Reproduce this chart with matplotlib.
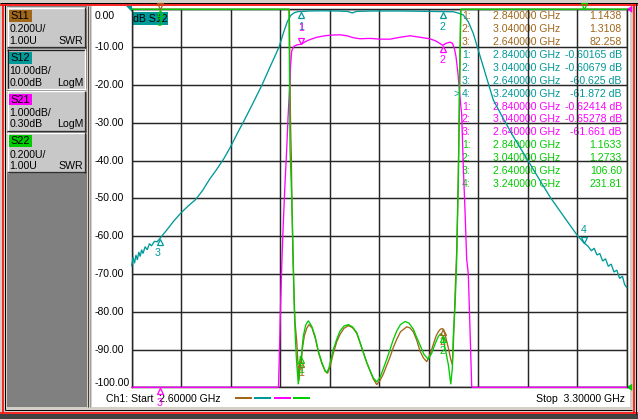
import numpy as np
import matplotlib
matplotlib.use("Agg")
import matplotlib.pyplot as plt
from matplotlib.patches import Rectangle, Polygon
from matplotlib.transforms import blended_transform_factory, offset_copy

plt.rcParams['font.family'] = ['Liberation Sans', 'DejaVu Sans']

# ---------------- data ----------------
START_GHZ, STOP_GHZ = 2.60, 3.30
channels = ['S11', 'S12', 'S21', 'S22']
channel_colors = ['#a0661a', '#009999', '#ff00ff', '#00cc00']
scale_per_div = ['0.200U/', '10.00dB/', '1.000dB/', '0.200U/']
ref_values = ['1.00U', '0.00dB', '0.30dB', '1.00U']
formats = ['SWR', 'LogM', 'LogM', 'SWR']

S12_REF, S12_DIV = 0.00, 10.0   # dB, reference at top line
S21_REF, S21_DIV = 0.30, 1.0    # dB, reference at top line
SWR_REF, SWR_DIV = 1.00, 0.2    # U, reference at bottom line

y_ticks = [0, -10, -20, -30, -40, -50, -60, -70, -80, -90, -100]
y_tick_labels = ['0.00', '-10.00', '-20.00', '-30.00', '-40.00', '-50.00',
                 '-60.00', '-70.00', '-80.00', '-90.00', '-100.00']

# S12 (dB)
s12_f = [2.600, 2.602, 2.604, 2.606, 2.608, 2.610, 2.612, 2.614, 2.616, 2.619,
         2.622, 2.625, 2.628, 2.632, 2.636, 2.640, 2.650, 2.660, 2.670, 2.680,
         2.690, 2.700, 2.710, 2.720, 2.730, 2.740, 2.750, 2.7574, 2.770, 2.7843,
         2.795, 2.8083, 2.815, 2.820, 2.825, 2.830, 2.835, 2.840, 2.850, 2.870,
         2.890, 2.905, 2.912, 2.918, 2.940, 2.960, 2.980, 3.000, 3.020, 3.040,
         3.0548, 3.0620, 3.0689, 3.0760, 3.0831, 3.0901, 3.0972, 3.1043, 3.1114,
         3.1251, 3.1392, 3.1604, 3.1774, 3.1925, 3.2099, 3.2293, 3.2400, 3.245,
         3.250, 3.254, 3.258, 3.262, 3.266, 3.270, 3.274, 3.278, 3.282, 3.286,
         3.290, 3.294, 3.297, 3.300]
s12_db = [-67.8, -65.6, -67.2, -65.0, -66.3, -64.2, -65.4, -63.6, -64.6, -62.8,
          -63.6, -62.0, -62.6, -61.4, -61.5, -60.6, -58.3, -55.9, -53.8, -52.0,
          -50.4, -48.0, -45.0, -42.4, -39.6, -36.3, -32.6, -30.0, -25.4, -20.0,
          -15.5, -10.0, -6.0, -3.3, -1.6, -0.9, -0.6, -0.60, -0.45, -0.40,
          -0.45, -0.55, -0.95, -0.55, -0.45, -0.45, -0.45, -0.50, -0.55, -0.61,
          -0.65, -1.0, -1.5, -3.3, -6.4, -10.8, -15.2, -19.6, -24.0,
          -28.8, -33.5, -40.0, -45.3, -49.9, -54.5, -59.6, -61.9, -62.6,
          -63.9, -63.2, -65.0, -64.6, -66.6, -66.0, -68.0, -67.4, -69.5, -69.0,
          -71.2, -70.6, -72.8, -73.6]

# S21 (dB) - stop band shown at the clipped bottom level
s21_f = [2.600, 2.8076, 2.8090, 2.8107, 2.8125, 2.8144, 2.8168, 2.8192, 2.8210,
         2.8229, 2.8246, 2.8263, 2.8295, 2.8338, 2.8400, 2.8451, 2.8521, 2.8616,
         2.8734, 2.8847, 2.8946, 2.9045, 2.9130, 2.9229, 2.9370, 2.9512, 2.9653,
         2.9794, 2.9936, 3.0077, 3.0218, 3.0303, 3.0400, 3.0445, 3.0501, 3.0537,
         3.0565, 3.0586, 3.0614, 3.0636, 3.0667, 3.0689, 3.0713, 3.0737, 3.0760,
         3.0784, 3.0808, 3.0819, 3.300]
s21_db = [-9.70, -9.70, -8.70, -7.40, -6.30, -5.35, -4.30, -3.40, -2.60,
          -1.90, -1.20, -0.80, -0.68, -0.64, -0.624, -0.56, -0.50, -0.44,
          -0.40, -0.38, -0.375, -0.40, -0.45, -0.48, -0.47, -0.49, -0.49,
          -0.44, -0.40, -0.44, -0.48, -0.54, -0.653, -0.60, -0.57, -0.60,
          -0.75, -0.95, -1.40, -1.90, -2.50, -3.85, -5.00, -6.30, -6.70,
          -8.16, -9.67, -9.70, -9.70]

# S22 (SWR) - out of band shown at the clipped top level
s22_f = [2.600, 2.8224, 2.8239, 2.8263, 2.8285, 2.8299, 2.8314, 2.8331, 2.8356,
         2.8370, 2.8384, 2.8400, 2.8413, 2.8427, 2.8461, 2.8498, 2.8545, 2.8592,
         2.8639, 2.8687, 2.8734, 2.8762, 2.8790, 2.8851, 2.8899, 2.8946, 2.9002,
         2.9063, 2.9122, 2.9182, 2.9228, 2.9275, 2.9323, 2.9370, 2.9417, 2.9465,
         2.9511, 2.9558, 2.9606, 2.9653, 2.9699, 2.9748, 2.9801, 2.9865, 2.9921,
         2.9982, 3.0030, 3.0077, 3.0133, 3.0194, 3.0242, 3.0289, 3.0335, 3.0369,
         3.0400, 3.0431, 3.0478, 3.0512, 3.0534, 3.0548, 3.0563, 3.0573, 3.0586,
         3.0596, 3.0608, 3.0619, 3.0633, 3.0643, 3.0653, 3.300]
s22_swr = [3.00, 3.00, 2.26, 2.00, 1.68, 1.42, 1.26, 1.14, 1.016,
           1.08, 1.164, 1.1633, 1.22, 1.272, 1.33, 1.352, 1.324, 1.272,
           1.192, 1.134, 1.088, 1.078, 1.104, 1.20, 1.254, 1.298, 1.324,
           1.332, 1.32, 1.29, 1.24, 1.184, 1.132, 1.088, 1.05, 1.028,
           1.052, 1.098, 1.148, 1.20, 1.252, 1.298, 1.332, 1.348, 1.34,
           1.308, 1.264, 1.224, 1.174, 1.148, 1.18, 1.228, 1.268, 1.284,
           1.2733, 1.208, 1.12, 1.016, 1.10, 1.272, 1.368, 1.44, 1.56,
           1.68, 1.90, 2.08, 2.52, 2.80, 3.00, 3.00]

# S11 (SWR)
s11_f = [2.600, 2.8229, 2.8246, 2.8257, 2.8267, 2.8281, 2.8295, 2.8309, 2.8333,
         2.8352, 2.8366, 2.8380, 2.8400, 2.8416, 2.8441, 2.8475, 2.8507, 2.8550,
         2.8596, 2.8644, 2.8691, 2.8738, 2.8769, 2.8804, 2.8851, 2.8899, 2.8946,
         2.9002, 2.9063, 2.9122, 2.9182, 2.9228, 2.9275, 2.9323, 2.9370, 2.9417,
         2.9465, 2.9511, 2.9558, 2.9606, 2.9653, 2.9699, 2.9748, 2.9801, 2.9889,
         2.9936, 2.9982, 3.0030, 3.0077, 3.0124, 3.0172, 3.0218, 3.0266, 3.0303,
         3.0336, 3.0367, 3.0400, 3.0431, 3.0478, 3.0512, 3.0534, 3.0548, 3.0565,
         3.0579, 3.0596, 3.0614, 3.0628, 3.0645, 3.0654, 3.300]
s11_swr = [3.00, 3.00, 2.40, 2.23, 1.956, 1.668, 1.50, 1.348, 1.246,
           1.12, 1.036, 1.104, 1.1438, 1.21, 1.272, 1.312, 1.332, 1.314,
           1.26, 1.18, 1.124, 1.084, 1.074, 1.108, 1.18, 1.24, 1.28,
           1.312, 1.326, 1.316, 1.286, 1.236, 1.186, 1.132, 1.088, 1.044,
           1.014, 1.036, 1.07, 1.116, 1.16, 1.21, 1.254, 1.294, 1.32,
           1.314, 1.294, 1.25, 1.192, 1.156, 1.136, 1.172, 1.228, 1.27,
           1.294, 1.308, 1.3108, 1.28, 1.208, 1.148, 1.12, 1.22, 1.40,
           1.56, 1.72, 2.04, 2.34, 2.76, 3.00, 3.00]

# marker readouts
mk_s11_f = [2.84, 3.04, 2.64]
mk_s11_v = [1.1438, 1.3108, 82.258]
mk_s12_f = [2.84, 3.04, 2.64, 3.24]
mk_s12_v = [-0.60165, -0.60679, -60.625, -61.872]
mk_s21_f = [2.84, 3.04, 2.64]
mk_s21_v = [-0.62414, -0.65278, -61.661]
mk_s22_f = [2.84, 3.04, 2.64, 3.24]
mk_s22_v = [1.1633, 1.2733, 106.60, 231.81]
active_marker = ('S12', 4)

# ---------------- helpers (instrument scales -> grid units) ----------------
def db_disp(v, ref, div):
    return (np.asarray(v, float) - ref) / div * 10.0

def swr_disp(u):
    return -100.0 + (np.asarray(u, float) - SWR_REF) / SWR_DIV * 10.0

def clipg(v):
    return np.clip(v, -100.0, 0.0)

# ---------------- figure ----------------
W, H = 638, 419
fig = plt.figure(figsize=(W / 100, H / 100), dpi=100)
fig.patch.set_facecolor('#d4d0c8')
bg = fig.add_axes([0, 0, 1, 1])
bg.set_xlim(0, W)
bg.set_ylim(H, 0)
bg.axis('off')
PX = 0.72

def seg(x0, y0, x1, y1, c, w=1.0, z=2):
    bg.plot([x0, x1], [y0, y1], color=c, lw=w * PX, solid_capstyle='butt', zorder=z)

# window frame
bg.add_patch(Rectangle((0, 414), W, 5, fc='#404040', ec='none', zorder=1))
bg.add_patch(Rectangle((92.3, 6.3), 538, 401, fc='white', ec='none', zorder=1))
bg.add_patch(Rectangle((7.0, 6.3), 80, 400.5, fc='#808080', ec='none', zorder=1))
seg(87.8, 6.3, 87.8, 407, '#404040')
seg(89.8, 6.3, 89.8, 407, '#a0a0a0')
seg(0, 3.2, W, 3.2, '#000000')
seg(0, 4.7, W, 4.7, '#ff0000', 1.6)
seg(0, 412.8, W, 412.8, '#ff0000', 1.6)
seg(5, 410.2, 632, 410.2, '#000000')
seg(3.0, 4.7, 3.0, 412.8, '#ff0000', 1.6)
seg(5.2, 5.5, 5.2, 410.2, '#000000')
seg(633.6, 4.7, 633.6, 412.8, '#ff0000', 1.6)
seg(635.8, 3.2, 635.8, 414, '#000000')

# channel soft-key boxes
box_top0, box_pitch, box_h = 7.4, 41.7, 40.6
for i, ch in enumerate(channels):
    t = box_top0 + i * box_pitch
    bg.add_patch(Rectangle((7.4, t), 78.6, box_h, fc='#c8c8c8', ec='none', zorder=2))
    lt, dk = ('#202020', '#ffffff') if i == 1 else ('#ffffff', '#303030')
    seg(7.4, t + 0.6, 86.0, t + 0.6, lt, 1.3, 3)
    seg(8.0, t, 8.0, t + box_h, lt, 1.3, 3)
    seg(7.4, t + box_h - 0.6, 86.0, t + box_h - 0.6, dk, 1.3, 3)
    seg(85.4, t, 85.4, t + box_h, dk, 1.3, 3)
    bg.add_patch(Rectangle((9.3, t + 2.8), 22.4, 11.8, fc=channel_colors[i], ec='none', zorder=3))
    bg.text(10.0, t + 8.9, ch, fontsize=7.9, color='black', va='center', ha='left', zorder=4)
    bg.text(9.6, t + 22.0, scale_per_div[i], fontsize=7.6, va='center', ha='left', zorder=4)
    bg.text(9.6, t + 33.4, ref_values[i], fontsize=7.6, va='center', ha='left', zorder=4)
    bg.text(83.0, t + 33.4, formats[i], fontsize=7.6, va='center', ha='right', zorder=4)

# ---------------- measurement axes ----------------
L, R, T, B = 131.7, 626.7, 9.3, 387.3
ax = fig.add_axes([L / W, 1 - B / H, (R - L) / W, (B - T) / H])
ax.set_facecolor('none')
ax.set_zorder(5)
ax.set_xlim(START_GHZ, STOP_GHZ)
ax.set_ylim(-100, 0)
ax.set_xticks(np.linspace(START_GHZ, STOP_GHZ, 11))
ax.set_yticks(y_ticks)
ax.tick_params(length=0, labelleft=False, labelbottom=False)
ax.grid(True, color='#262626', lw=1.05, zorder=0)
ax.set_axisbelow(True)
for s in ax.spines.values():
    s.set_color('#262626')
    s.set_linewidth(1.05)

ylab_tr = blended_transform_factory(bg.transData, ax.transData)
for v, lab in zip(np.clip(y_ticks, -98.9, -1.8), y_tick_labels):
    ax.text(95.0, v, lab, transform=ylab_tr, fontsize=7.5, va='center', ha='left',
            clip_on=False)

traces = [
    (s11_f, swr_disp(s11_swr), channel_colors[0]),
    (s12_f, db_disp(s12_db, S12_REF, S12_DIV), channel_colors[1]),
    (s21_f, db_disp(s21_db, S21_REF, S21_DIV), channel_colors[2]),
    (s22_f, swr_disp(s22_swr), channel_colors[3]),
]
for k, (f, d, c) in enumerate(traces):
    ax.plot(f, clipg(d), color=c, lw=0.95, clip_on=False, zorder=3 + k,
            solid_joinstyle='miter')

def marker(f, val, color, kind, lab, dy, dx=0, z=8):
    v = float(clipg(val))
    if kind == 'up':
        tr = offset_copy(ax.transData, fig=fig, x=0, y=-3.4, units='dots')
        mk = '^'
    else:
        tr = offset_copy(ax.transData, fig=fig, x=0, y=3.4, units='dots')
        mk = 'v'
    ax.plot([f], [v], marker=mk, ms=5, mfc='none', mec=color, mew=0.9,
            transform=tr, clip_on=False, zorder=z)
    if lab is not None:
        ax.annotate(lab, (f, v), xytext=(dx, dy), textcoords='offset pixels',
                    ha='center', va='center', color=color, fontsize=7.6,
                    annotation_clip=False, zorder=z)

s11_m = swr_disp(mk_s11_v)
s12_m = db_disp(mk_s12_v, S12_REF, S12_DIV)
s21_m = db_disp(mk_s21_v, S21_REF, S21_DIV)
s22_m = swr_disp(mk_s22_v)
c11, c12, c21, c22 = channel_colors

marker(mk_s11_f[0], s11_m[0], c11, 'up', '1', -13)
marker(mk_s11_f[1], s11_m[1], c11, 'up', '2', -13)
marker(mk_s11_f[2], s11_m[2], c11, 'down', None, 0)
marker(mk_s12_f[0], s12_m[0], c12, 'up', '1', -15)
marker(mk_s12_f[1], s12_m[1], c12, 'up', '2', -15)
marker(mk_s12_f[2], s12_m[2], c12, 'up', '3', -15, -2)
marker(mk_s12_f[3], s12_m[3], c12, 'down', '4', 13, -1)
marker(mk_s21_f[0], s21_m[0], c21, 'down', '1', 16)
marker(mk_s21_f[1], s21_m[1], c21, 'up', '2', -15)
marker(mk_s21_f[2], s21_m[2], c21, 'up', '3', -15.5)
marker(mk_s22_f[0], s22_m[0], c22, 'up', '1', -14)
marker(mk_s22_f[1], s22_m[1], c22, 'up', '2', -15)
marker(mk_s22_f[2], s22_m[2], c22, 'up', '3', -14)
marker(mk_s22_f[3], s22_m[3], c22, 'down', None, 0)

# trace title box
bg.add_patch(Rectangle((132.7, 12.3), 35.6, 12.8, fc=c12, ec='none', zorder=6))
bg.text(133.4, 18.8, 'dB S12', fontsize=7.6, va='center', ha='left', zorder=6.5)

# reference position arrows
bg.add_patch(Polygon([(125.8, 6.2), (131.7, 6.2), (131.7, 12.5)], closed=True,
                     fc=c12, ec='none', zorder=7))
bg.add_patch(Polygon([(632.2, 5.8), (632.2, 12.8), (626.5, 9.3)], closed=True,
                     fc=c21, ec='none', zorder=7))
bg.add_patch(Polygon([(632.2, 383.6), (632.2, 391.0), (626.5, 387.3)], closed=True,
                     fc=c22, ec='none', zorder=7))

# marker readout table
readout = []
for ch, col, fs, vs, unit in [('S11', c11, mk_s11_f, mk_s11_v, ''),
                              ('S12', c12, mk_s12_f, mk_s12_v, ' dB'),
                              ('S21', c21, mk_s21_f, mk_s21_v, ' dB'),
                              ('S22', c22, mk_s22_f, mk_s22_v, '')]:
    for n, (fq, vv) in enumerate(zip(fs, vs), start=1):
        readout.append((ch, n, col, f"{fq:.6f} GHz", f"{vv:#.5g}{unit}"))

y0, dy = 16.4, 12.88
for i, (ch, n, col, ftxt, vtxt) in enumerate(readout):
    y = y0 + i * dy
    if (ch, n) == active_marker:
        bg.text(453.0, y, '>', color=col, fontsize=7.6, va='center', ha='left', zorder=9)
    bg.text(462.0, y, f"{n}:", color=col, fontsize=7.6, va='center', ha='left', zorder=9)
    bg.text(492.8, y, ftxt, color=col, fontsize=7.6, va='center', ha='left', zorder=9)
    bg.text(621.8, y, vtxt, color=col, fontsize=7.6, va='center', ha='right', zorder=9)

# footer
bg.text(106.5, 398.8, f"Ch1: Start  {START_GHZ:.5f} GHz", fontsize=7.6, va='center',
        ha='left', zorder=6)
bg.text(624.5, 398.8, f"Stop  {STOP_GHZ:.5f} GHz", fontsize=7.6, va='center',
        ha='right', zorder=6)
for k, c in enumerate(channel_colors):
    x0 = 234.8 + k * 19.4
    seg(x0, 397.8, x0 + 17.2, 397.8, c, 2.0, 6)

fig.savefig('out.png', dpi=100, facecolor=fig.get_facecolor())
